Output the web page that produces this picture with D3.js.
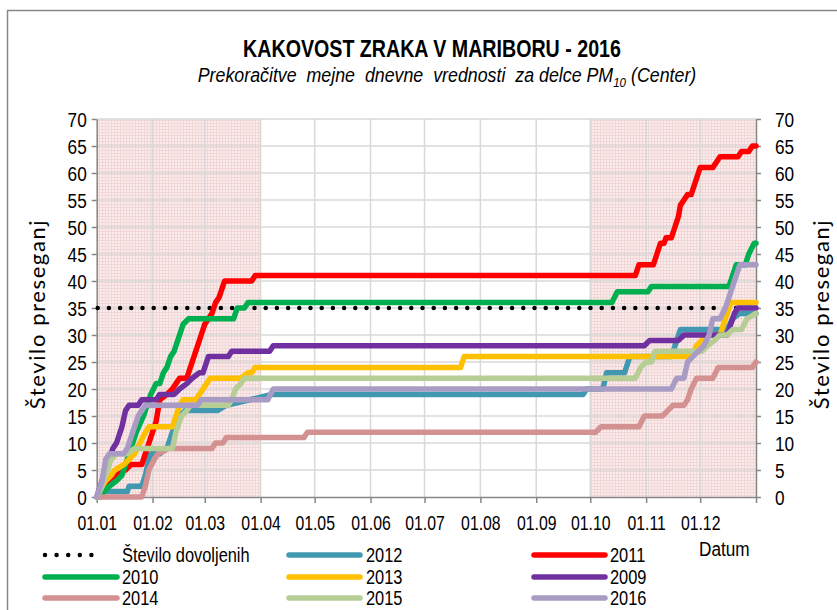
<!DOCTYPE html>
<html><head><meta charset="utf-8">
<script src="https://cdn.jsdelivr.net/npm/d3@7"></script>
<style>
body{margin:0;background:#fff}
</style>
</head><body>
<svg id="c" width="837" height="610"></svg>
<script>
// ---------------- DATA ----------------
const titleText = "KAKOVOST ZRAKA V MARIBORU - 2016";
const subtitleParts = ["Prekoračitve  mejne  dnevne  vrednosti  za delce PM", "10", " (Center)"];
const yTitle = "Število preseganj";
const xTitle = "Datum";
const xTickLabels = ["01.01","01.02","01.03","01.04","01.05","01.06","01.07","01.08","01.09","01.10","01.11","01.12"];
const yTicks = [0,5,10,15,20,25,30,35,40,45,50,55,60,65,70];
const limitValue = 35;
const limitName = "Število dovoljenih";
// shaded (heating season) periods, as day-of-year ranges
const shadedPeriods = [[0, 91], [274, 366]];

// series: [dayOfYear, cumulative exceedances]
const s2012 = [[0,0],[2,1],[17,1],[18,2],[25,2],[27,4],[29,7],[30,8],[35,8],[39,9],[41,11],[43,13],[46,15],[49,16],[67,16],[72,17],[85,18],[97,19],[270,19],[272,20],[281,20],[283,23],[293,23],[296,26],[319,26],[321,28],[324,31],[350,31],[353,33],[357,34],[366,34]];
const s2011 = [[0,0],[2,1],[5,2],[8,3],[11,4],[16,5],[19,6],[25,6],[27,8],[29,10],[31,12],[33,14],[35,18],[39,19],[42,20],[44,21],[46,22],[50,22],[52,24],[54,26],[56,28],[58,30],[60,32],[62,33],[64,34],[66,36],[68,37],[70,39],[71,40],[86,40],[88,41],[299,41],[301,43],[309,43],[311,45],[313,47],[315,47],[316,48],[319,48],[321,50],[323,52],[324,54],[326,55],[328,56],[330,56],[332,58],[334,60],[335,61],[342,61],[344,62],[346,63],[356,63],[358,64],[362,64],[364,65],[366,65]];
const s2010 = [[0,0],[2,0],[4,1],[7,2],[11,3],[14,4],[16,6],[19,9],[22,12],[26,15],[28,17],[30,19],[33,21],[35,21],[37,23],[39,24],[41,26],[43,27],[45,29],[47,31],[48,32],[51,33],[76,33],[78,35],[82,35],[84,36],[286,36],[289,38],[306,38],[308,39],[351,39],[353,41],[355,43],[360,43],[362,45],[365,47],[366,47]];
const s2013 = [[0,0],[3,2],[5,3],[8,4],[10,5],[15,6],[18,7],[21,8],[24,10],[27,12],[29,13],[42,13],[44,15],[46,17],[48,18],[55,18],[57,19],[59,20],[61,21],[63,22],[80,22],[84,23],[86,23],[88,24],[202,24],[204,26],[330,26],[333,28],[336,29],[340,30],[346,30],[349,33],[352,36],[366,36]];
const s2009 = [[0,0],[2,2],[4,4],[7,7],[9,9],[11,10],[14,13],[16,16],[18,17],[23,17],[25,18],[33,18],[35,19],[43,19],[46,20],[50,21],[53,22],[57,23],[59,23],[62,26],[73,26],[75,27],[96,27],[98,28],[304,28],[307,29],[323,29],[326,30],[350,30],[352,32],[354,34],[356,35],[366,35]];
const s2014 = [[0,0],[25,0],[27,2],[29,5],[32,7],[34,8],[40,9],[64,9],[66,10],[70,10],[72,11],[115,11],[117,12],[277,12],[280,13],[301,13],[304,15],[314,15],[317,16],[320,17],[326,17],[328,18],[330,20],[333,22],[342,22],[345,24],[364,24],[366,25]];
const s2015 = [[0,0],[3,2],[5,4],[8,7],[11,8],[17,8],[21,9],[42,9],[44,12],[47,15],[50,16],[52,17],[73,17],[75,18],[77,20],[80,21],[82,22],[299,22],[302,24],[305,25],[308,25],[310,27],[336,27],[339,28],[343,29],[346,30],[350,30],[353,31],[358,31],[361,33],[366,34]];
const s2016 = [[0,0],[3,3],[5,7],[7,8],[15,8],[17,9],[20,12],[23,15],[25,16],[27,17],[56,17],[58,18],[95,18],[98,20],[319,20],[322,22],[326,22],[328,25],[331,26],[334,27],[337,28],[340,30],[342,33],[346,33],[349,35],[352,38],[355,41],[357,43],[366,43]];

const seriesNames  = ["2012","2011","2010","2013","2009","2014","2015","2016"];
const seriesValues = [s2012, s2011, s2010, s2013, s2009, s2014, s2015, s2016];
const seriesColors = ["#4298b0","#ff0000","#00b050","#ffc000","#7030a0","#d39191","#b6cd95","#a89cc4"];

// ---------------- LAYOUT ----------------
const SANS = "'Liberation Sans', Arial, sans-serif";
const svg = d3.select("#c");
const W = 837, H = 610;
const L = 96.7, R = 756, T = 119, B = 497;

// condense text horizontally (narrow-font look)
function condense(sel, f) {
  sel.each(function () {
    const w = this.getComputedTextLength();
    d3.select(this).attr("textLength", w * f).attr("lengthAdjust", "spacingAndGlyphs");
  });
}
// scale a centered text group to a target width
function fitGroup(g, cx, cy, targetW) {
  const bb = g.node().getBBox();
  g.attr("transform", `translate(${cx},${cy}) scale(${targetW / bb.width},1)`);
}

svg.append("rect").attr("width", W).attr("height", H).attr("fill", "#fff");
// outer chart frame
svg.append("rect").attr("x", 7.5).attr("y", 10.5).attr("width", 900).attr("height", 700)
  .attr("fill", "none").attr("stroke", "#888").attr("stroke-width", 1.5);

const start = new Date(2016, 0, 1), end = new Date(2017, 0, 1);
const x = d3.scaleTime().domain([start, end]).range([L, R]);
const dayX = d => x(d3.timeDay.offset(start, d));
const y = d3.scaleLinear().domain([0, 70]).range([B, T]);
const monthStarts = d3.timeMonth.range(start, end);

// pattern for shaded periods
const defs = svg.append("defs");
const pat = defs.append("pattern").attr("id", "pk").attr("patternUnits", "userSpaceOnUse")
  .attr("width", 3).attr("height", 3);
pat.append("rect").attr("width", 3).attr("height", 3).attr("fill", "#fbeded");
pat.append("rect").attr("width", 3).attr("height", 1).attr("fill", "#f1d6d6");
pat.append("rect").attr("width", 1).attr("height", 3).attr("fill", "#f1d6d6");

svg.append("g").selectAll("rect").data(shadedPeriods).join("rect")
  .attr("x", d => dayX(d[0])).attr("y", T)
  .attr("width", d => dayX(d[1]) - dayX(d[0])).attr("height", B - T)
  .attr("fill", "url(#pk)");

// gridlines
const grid = svg.append("g").attr("stroke", "#d9d9d9").attr("stroke-width", 1.5);
grid.selectAll(".h").data(yTicks.filter(v => v > 0)).join("line")
  .attr("x1", L).attr("x2", R).attr("y1", d => y(d)).attr("y2", d => y(d));
grid.selectAll(".v").data(monthStarts.slice(1)).join("line")
  .attr("y1", T).attr("y2", B).attr("x1", d => x(d)).attr("x2", d => x(d));

// axes
const axisColor = "#868686";
function styleAxis(g) {
  g.select(".domain").attr("stroke", axisColor).attr("stroke-width", 1.5);
  g.selectAll(".tick line").attr("stroke", axisColor).attr("stroke-width", 1.5);
  g.selectAll(".tick text").attr("fill", "#000").style("font-family", SANS).style("font-size", "20px");
}
svg.append("g").attr("transform", `translate(${L},0)`)
  .call(d3.axisLeft(y).tickValues(yTicks).tickSize(5).tickSizeOuter(0).tickPadding(5))
  .call(styleAxis).call(g => g.selectAll(".tick text").attr("dy", "0.36em").call(condense, 0.86));
svg.append("g").attr("transform", `translate(${R},0)`)
  .call(d3.axisRight(y).tickValues(yTicks).tickSize(5).tickSizeOuter(0).tickPadding(14))
  .call(styleAxis).call(g => g.selectAll(".tick text").attr("dy", "0.36em").call(condense, 0.86));
svg.append("g").attr("transform", `translate(0,${B})`)
  .call(d3.axisBottom(x).tickValues(monthStarts.concat([end])).tickSize(6).tickSizeOuter(0).tickPadding(13)
    .tickFormat((d, i) => xTickLabels[i] || ""))
  .call(styleAxis).call(g => g.selectAll(".tick text").call(condense, 0.79));

// limit line (dotted)
svg.append("line").attr("x1", L + 1).attr("x2", R).attr("y1", y(limitValue)).attr("y2", y(limitValue))
  .attr("stroke", "#000").attr("stroke-width", 4.5).attr("stroke-linecap", "round")
  .attr("stroke-dasharray", "0 11.2");

// series lines
const line = d3.line().x(d => dayX(d[0])).y(d => y(d[1]));
svg.append("g").selectAll("path").data(seriesValues).join("path")
  .attr("d", line).attr("fill", "none")
  .attr("stroke", (d, i) => seriesColors[i]).attr("stroke-width", 5.5)
  .attr("stroke-linejoin", "round").attr("stroke-linecap", "round");

// titles
const tg = svg.append("g");
tg.append("text").attr("text-anchor", "middle")
  .style("font-family", SANS).style("font-weight", "bold").style("font-size", "23px").text(titleText);
fitGroup(tg, 432, 57, 378);

const sg = svg.append("g");
const st = sg.append("text").attr("text-anchor", "middle")
  .style("font-family", SANS).style("font-style", "italic").style("font-size", "20px")
  .style("white-space", "pre");
st.append("tspan").text(subtitleParts[0]);
st.append("tspan").attr("dy", 5).style("font-size", "13px").text(subtitleParts[1]);
st.append("tspan").attr("dy", -5).text(subtitleParts[2]);
fitGroup(sg, 447, 82, 499);

// y axis titles
const yt = (cx) => svg.append("text").attr("transform", `translate(${cx},314) rotate(-90)`)
  .attr("text-anchor", "middle").style("font-family", "Lato, 'Open Sans', sans-serif")
  .style("font-size", "22px").style("letter-spacing", "1.6px").text(yTitle);
yt(45); yt(829);

// x title
svg.append("text").attr("x", 699).attr("y", 556).style("font-family", SANS).style("font-size", "20px")
  .text(xTitle).call(condense, 0.86);

// legend
const legNames = [limitName].concat(seriesNames);
const legCols = [[45, 117, 122], [289, 360, 366], [534, 605, 610]];
const legRows = [555, 577, 598];
const leg = svg.append("g");
legNames.forEach((name, i) => {
  const c = legCols[i % 3], r = legRows[Math.floor(i / 3)];
  if (i === 0) {
    leg.append("line").attr("x1", c[0]).attr("x2", c[0] + 58).attr("y1", r).attr("y2", r)
      .attr("stroke", "#000").attr("stroke-width", 4.5).attr("stroke-linecap", "round")
      .attr("stroke-dasharray", "0 11.6");
  } else {
    leg.append("line").attr("x1", c[0]).attr("x2", c[1]).attr("y1", r).attr("y2", r)
      .attr("stroke", seriesColors[i - 1]).attr("stroke-width", 5.5).attr("stroke-linecap", "round");
  }
  leg.append("text").attr("x", c[2]).attr("y", r + 7).style("font-family", SANS)
    .style("font-size", "20px").text(name).call(condense, 0.82);
});
</script>
</body></html>
